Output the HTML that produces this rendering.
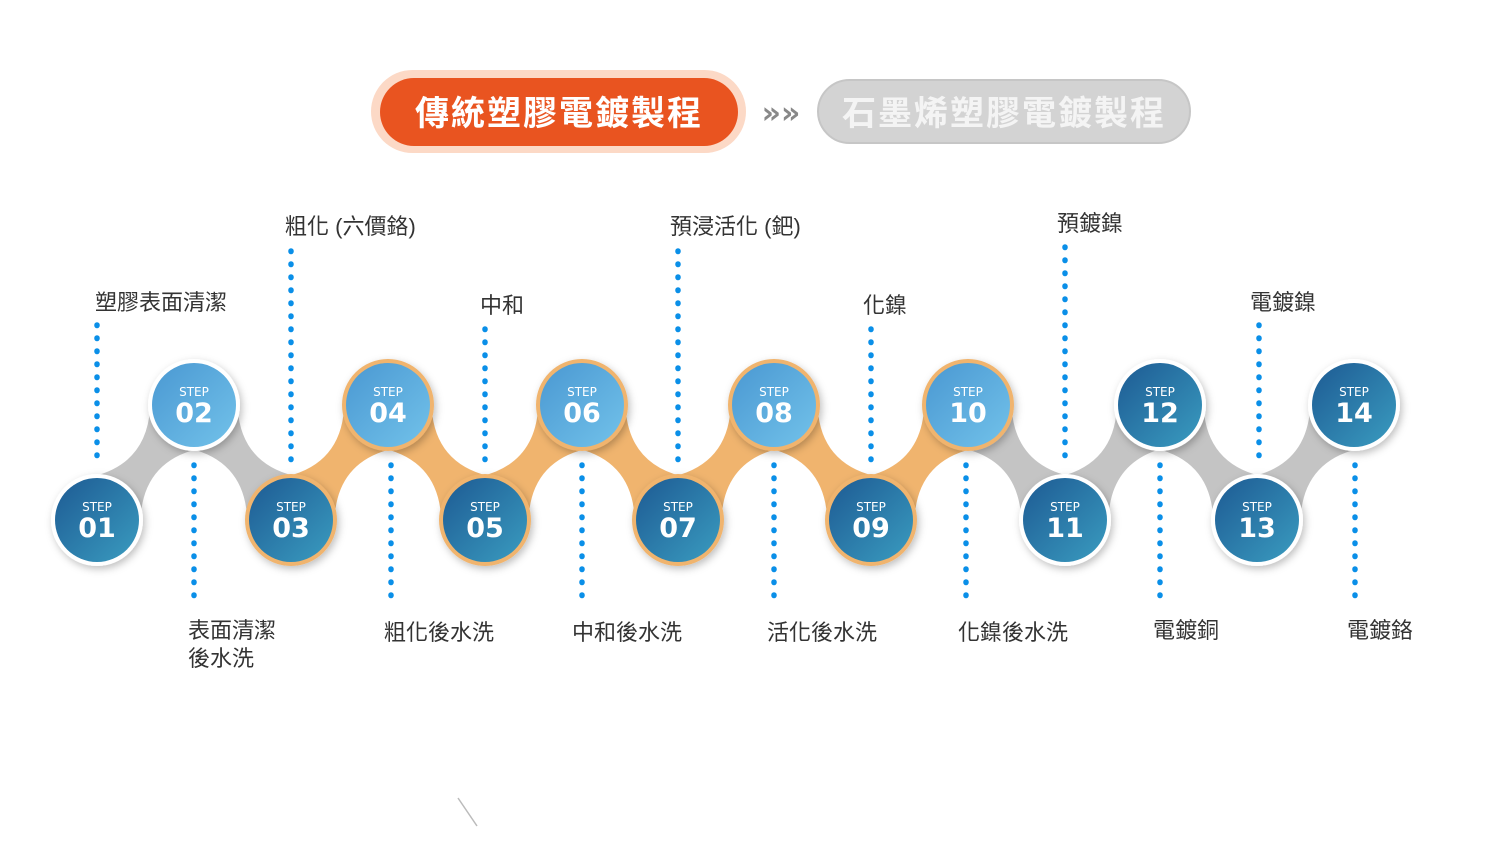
<!DOCTYPE html>
<html><head><meta charset="utf-8"><style>
html,body{margin:0;padding:0;background:#fff;width:1500px;height:844px;overflow:hidden}
svg{display:block}
.lb{font-family:"Liberation Sans","Noto Sans CJK TC",sans-serif;font-size:22px;fill:#333}
.st{font-family:"DejaVu Sans","Liberation Sans",sans-serif;fill:#fff;text-anchor:middle}
</style></head><body>
<svg width="1500" height="844" viewBox="0 0 1500 844" xmlns="http://www.w3.org/2000/svg">
<defs>
<linearGradient id="dk" x1="0" y1="0" x2="1" y2="1"><stop offset="0" stop-color="#1d5a93"/><stop offset="1" stop-color="#3a9cc0"/></linearGradient>
<linearGradient id="lt" x1="0" y1="0" x2="1" y2="1"><stop offset="0" stop-color="#4a98d2"/><stop offset="1" stop-color="#72c2ea"/></linearGradient>
<filter id="sh" x="-30%" y="-30%" width="160%" height="160%"><feDropShadow dx="2" dy="3" stdDeviation="4" flood-color="#000" flood-opacity="0.25"/></filter>
<path id="bn" d="M31,-31 Q75,1 119,-31 L119,31 Q75,-1 31,31 Z"/>
</defs>
<!-- header -->
<rect x="371" y="70" width="375" height="83" rx="41.5" fill="#fcd9c6"/>
<rect x="380" y="78" width="358" height="68" rx="34" fill="#e95420"/>
<text x="559" y="125" text-anchor="middle" font-family="'Noto Sans CJK TC',sans-serif" font-size="34" font-weight="bold" fill="#fff" letter-spacing="2">傳統塑膠電鍍製程</text>
<text x="781" y="123" text-anchor="middle" font-family="'DejaVu Sans',sans-serif" font-size="30" font-weight="bold" fill="#888">»»</text>
<rect x="818" y="80" width="372" height="63" rx="31.5" fill="#d3d3d3" stroke="#c6c6c6" stroke-width="2"/>
<text x="1004" y="125" text-anchor="middle" font-family="'Noto Sans CJK TC',sans-serif" font-size="34" font-weight="bold" fill="#f4f4f4" letter-spacing="2">石墨烯塑膠電鍍製程</text>
<!-- connectors -->
<g fill="#c4c4c4">
<use href="#bn" transform="translate(97,520) rotate(-49.85)"/>
<use href="#bn" transform="translate(194,405) rotate(49.85)"/>
<use href="#bn" transform="translate(968,405) rotate(49.85)"/>
<use href="#bn" transform="translate(1065,520) rotate(-50.5)"/>
<use href="#bn" transform="translate(1160,405) rotate(49.85)"/>
<use href="#bn" transform="translate(1257,520) rotate(-49.85)"/>
</g>
<g fill="#f0b46e">
<use href="#bn" transform="translate(291,520) rotate(-49.85)"/>
<use href="#bn" transform="translate(388,405) rotate(49.85)"/>
<use href="#bn" transform="translate(485,520) rotate(-49.85)"/>
<use href="#bn" transform="translate(582,405) rotate(50.1)"/>
<use href="#bn" transform="translate(678,520) rotate(-50.1)"/>
<use href="#bn" transform="translate(774,405) rotate(49.85)"/>
<use href="#bn" transform="translate(871,520) rotate(-49.85)"/>
</g>
<!-- dotted lines -->
<g stroke="#0a8fe8" stroke-width="5.5" stroke-linecap="round" stroke-dasharray="0.5 12.5" fill="none">
<line x1="97" y1="325" x2="97" y2="465"/>
<line x1="291" y1="251" x2="291" y2="465"/>
<line x1="485" y1="329" x2="485" y2="465"/>
<line x1="678" y1="251" x2="678" y2="465"/>
<line x1="871" y1="329" x2="871" y2="465"/>
<line x1="1065" y1="247" x2="1065" y2="465"/>
<line x1="1259" y1="325" x2="1259" y2="465"/>
<line x1="194" y1="465" x2="194" y2="605"/>
<line x1="391" y1="465" x2="391" y2="605"/>
<line x1="582" y1="465" x2="582" y2="605"/>
<line x1="774" y1="465" x2="774" y2="605"/>
<line x1="966" y1="465" x2="966" y2="605"/>
<line x1="1160" y1="465" x2="1160" y2="605"/>
<line x1="1355" y1="465" x2="1355" y2="605"/>
</g>
<!-- circles -->
<g filter="url(#sh)">
<circle cx="97" cy="520" r="46" fill="#fff"/>
<circle cx="194" cy="405" r="46" fill="#fff"/>
<circle cx="291" cy="520" r="46" fill="#f0b46e"/>
<circle cx="388" cy="405" r="46" fill="#f0b46e"/>
<circle cx="485" cy="520" r="46" fill="#f0b46e"/>
<circle cx="582" cy="405" r="46" fill="#f0b46e"/>
<circle cx="678" cy="520" r="46" fill="#f0b46e"/>
<circle cx="774" cy="405" r="46" fill="#f0b46e"/>
<circle cx="871" cy="520" r="46" fill="#f0b46e"/>
<circle cx="968" cy="405" r="46" fill="#f0b46e"/>
<circle cx="1065" cy="520" r="46" fill="#fff"/>
<circle cx="1160" cy="405" r="46" fill="#fff"/>
<circle cx="1257" cy="520" r="46" fill="#fff"/>
<circle cx="1354" cy="405" r="46" fill="#fff"/>
</g>
<circle cx="97" cy="520" r="42" fill="url(#dk)"/>
<circle cx="194" cy="405" r="42" fill="url(#lt)"/>
<circle cx="291" cy="520" r="42" fill="url(#dk)"/>
<circle cx="388" cy="405" r="42" fill="url(#lt)"/>
<circle cx="485" cy="520" r="42" fill="url(#dk)"/>
<circle cx="582" cy="405" r="42" fill="url(#lt)"/>
<circle cx="678" cy="520" r="42" fill="url(#dk)"/>
<circle cx="774" cy="405" r="42" fill="url(#lt)"/>
<circle cx="871" cy="520" r="42" fill="url(#dk)"/>
<circle cx="968" cy="405" r="42" fill="url(#lt)"/>
<circle cx="1065" cy="520" r="42" fill="url(#dk)"/>
<circle cx="1160" cy="405" r="42" fill="url(#dk)"/>
<circle cx="1257" cy="520" r="42" fill="url(#dk)"/>
<circle cx="1354" cy="405" r="42" fill="url(#dk)"/>
<!-- step text -->
<g class="st">
<g font-size="12"><text x="97" y="511">STEP</text><text x="194" y="396">STEP</text><text x="291" y="511">STEP</text><text x="388" y="396">STEP</text><text x="485" y="511">STEP</text><text x="582" y="396">STEP</text><text x="678" y="511">STEP</text><text x="774" y="396">STEP</text><text x="871" y="511">STEP</text><text x="968" y="396">STEP</text><text x="1065" y="511">STEP</text><text x="1160" y="396">STEP</text><text x="1257" y="511">STEP</text><text x="1354" y="396">STEP</text></g>
<g font-size="27" font-weight="bold"><text x="97" y="537">01</text><text x="194" y="422">02</text><text x="291" y="537">03</text><text x="388" y="422">04</text><text x="485" y="537">05</text><text x="582" y="422">06</text><text x="678" y="537">07</text><text x="774" y="422">08</text><text x="871" y="537">09</text><text x="968" y="422">10</text><text x="1065" y="537">11</text><text x="1160" y="422">12</text><text x="1257" y="537">13</text><text x="1354" y="422">14</text></g>
</g>
<!-- labels -->
<g class="lb">
<text x="95" y="310">塑膠表面清潔</text>
<text x="285" y="234">粗化 (六價鉻)</text>
<text x="480" y="313">中和</text>
<text x="670" y="234">預浸活化 (鈀)</text>
<text x="863" y="313">化鎳</text>
<text x="1057" y="231">預鍍鎳</text>
<text x="1250" y="310">電鍍鎳</text>
<text x="188" y="638">表面清潔</text>
<text x="188" y="666">後水洗</text>
<text x="384" y="640">粗化後水洗</text>
<text x="572" y="640">中和後水洗</text>
<text x="767" y="640">活化後水洗</text>
<text x="958" y="640">化鎳後水洗</text>
<text x="1153" y="638">電鍍銅</text>
<text x="1347" y="638">電鍍鉻</text>
</g>
<line x1="458" y1="798" x2="477" y2="826" stroke="#bbb" stroke-width="1.5"/>
</svg>
</body></html>
